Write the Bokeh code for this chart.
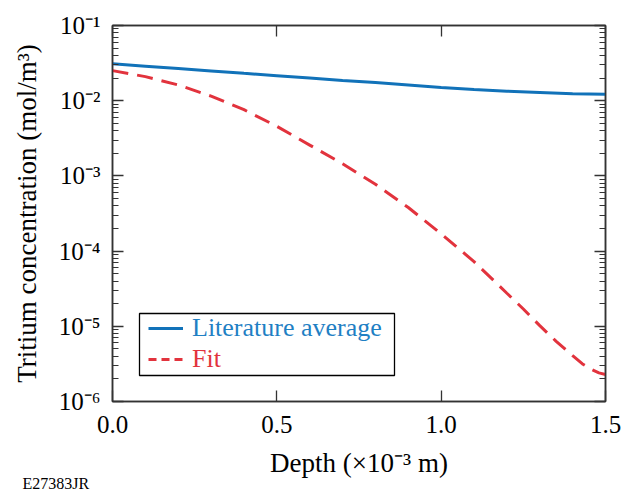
from bokeh.plotting import figure
from bokeh.models import (Range1d, FixedTicker, LinearAxis, LogAxis, Legend, LegendItem,
                          BoxAnnotation, Title, CustomJSTickFormatter, ColumnDataSource)
from bokeh.embed import file_html
from bokeh.resources import INLINE

# ---- data ----
depth_lit = [0.0, 0.1, 0.2, 0.3, 0.4, 0.5, 0.6, 0.7, 0.8, 0.9, 1.0, 1.1, 1.2, 1.3, 1.4, 1.5]
conc_lit = [0.0309, 0.0288, 0.0268, 0.0249, 0.0231, 0.0215, 0.0200, 0.0186, 0.0174, 0.0162,
            0.0150, 0.0141, 0.0134, 0.0129, 0.0124, 0.0122]

depth_fit = [0.0, 0.1, 0.2, 0.3, 0.4, 0.5, 0.6, 0.7, 0.8, 0.9, 1.0, 1.1, 1.2, 1.25, 1.3,
             1.35, 1.4, 1.43, 1.46, 1.48, 1.5]
conc_fit = [0.0251, 0.0209, 0.0162, 0.0115, 0.00759, 0.00457, 0.00257, 0.00145, 7.76e-4,
            3.80e-4, 1.70e-4, 7.24e-5, 2.75e-5, 1.70e-5, 1.02e-5,
            6.31e-6, 4.07e-6, 3.16e-6, 2.63e-6, 2.40e-6, 2.29e-6]

x_ticks = [0.0, 0.5, 1.0, 1.5]
x_tick_labels = ["0.0", "0.5", "1.0", "1.5"]
y_ticks = [1e-6, 1e-5, 1e-4, 1e-3, 1e-2, 1e-1]
y_tick_labels = ["10\u207b\u2076", "10\u207b\u2075", "10\u207b\u2074", "10\u207b\u00b3", "10\u207b\u00b2", "10\u207b\u00b9"]
y_minor_ticks = [m * 10.0 ** e for e in range(-6, -1) for m in range(2, 10)]

series_names = ["Literature average", "Fit"]
x_title = "Depth (\u00d710\u207b\u00b3 m)"
y_title = "Tritium concentration (mol/m\u00b3)"
footer = "E27383JR"

BLUE = "#1172b9"
BLUE_TXT = "#1f80c4"
RED = "#e2333d"
FONT = "Liberation Serif"
AX = "#333333"

p = figure(width=623, height=491, output_backend="svg", toolbar_location=None,
           y_axis_type="log", x_range=Range1d(0, 1.5), y_range=Range1d(1e-6, 1e-1),
           min_border_left=112, min_border_right=18, min_border_top=25, min_border_bottom=90)
p.xgrid.visible = False
p.ygrid.visible = False
p.outline_line_color = AX
p.outline_line_width = 1.5

fit_src = ColumnDataSource(data=dict(x=depth_fit, y=conc_fit))
r_lit = p.line(depth_lit, conc_lit, line_color=BLUE, line_width=3)
r_fit = p.line("x", "y", source=fit_src, line_color=RED, line_width=3, line_dash="16 9")
# legend-only sample for the dashed series (shorter dashes in the key); hidden in the frame
r_fit_key = p.line("x", "y", source=fit_src, line_color=RED, line_width=3, line_dash="8 5",
                   visible=False)

xt = FixedTicker(ticks=x_ticks, minor_ticks=[])
yt = FixedTicker(ticks=y_ticks, minor_ticks=y_minor_ticks)
xfmt = CustomJSTickFormatter(args=dict(tv=x_ticks, tl=x_tick_labels), code="""
for (let i = 0; i < tv.length; i++) { if (Math.abs(tick - tv[i]) < 1e-9) return tl[i]; }
return "";""")
yfmt = CustomJSTickFormatter(args=dict(tv=y_ticks, tl=y_tick_labels), code="""
for (let i = 0; i < tv.length; i++) { if (Math.abs(Math.log10(tick) - Math.log10(tv[i])) < 1e-6) return tl[i]; }
return "";""")
blank = CustomJSTickFormatter(code='return "";')


def style(ax, labels=True):
    ax.axis_line_color = AX
    ax.axis_line_width = 1.5
    ax.major_tick_in = 11
    ax.major_tick_out = 0
    ax.minor_tick_in = 6
    ax.minor_tick_out = 0
    ax.major_tick_line_color = AX
    ax.minor_tick_line_color = AX
    ax.major_tick_line_width = 1.3
    ax.minor_tick_line_width = 1.1
    ax.major_label_text_font = FONT
    ax.major_label_text_color = "black"
    ax.major_label_text_font_size = "25px"
    ax.axis_label_text_font = FONT
    ax.axis_label_text_font_style = "normal"
    ax.axis_label_text_color = "black"
    ax.axis_label_text_font_size = "27px"
    ax.major_label_standoff = 10 if labels else 0


xa = p.xaxis[0]
xa.ticker = xt
xa.formatter = xfmt
xa.axis_label = x_title
style(xa)
xa.major_label_standoff = 14
xa.axis_label_standoff = 12

ya = p.yaxis[0]
ya.ticker = yt
ya.formatter = yfmt
ya.axis_label = y_title
ya.axis_label_standoff = 14
style(ya)
ya.major_label_standoff = 12

top = LinearAxis(ticker=xt, formatter=blank)
style(top, labels=False)
p.add_layout(top, "above")
right = LogAxis(ticker=yt, formatter=blank)
style(right, labels=False)
p.add_layout(right, "right")

# legend (two stacked legends so each label keeps its series colour) + frame box
common = dict(border_line_alpha=0, background_fill_alpha=0, padding=0, margin=0, spacing=0,
              glyph_width=35, glyph_height=20, label_standoff=9,
              label_text_font=FONT, label_text_font_size="26px",
              inactive_fill_alpha=0)
leg_a = Legend(items=[LegendItem(label=series_names[0], renderers=[r_lit])],
               location=(36, 58), label_text_color=BLUE_TXT, **common)
leg_b = Legend(items=[LegendItem(label=series_names[1], renderers=[r_fit_key])],
               location=(36, 27), label_text_color=RED, **common)
p.add_layout(leg_a, "center")
p.add_layout(leg_b, "center")
p.add_layout(BoxAnnotation(left=27, right=282, top=88, bottom=26,
                           left_units="screen", right_units="screen",
                           top_units="screen", bottom_units="screen",
                           fill_alpha=0, line_color="black", line_alpha=1, line_width=1.3))

p.add_layout(Title(text=footer, align="left", offset=-90, standoff=-16,
                   text_font=FONT, text_font_size="16px", text_font_style="normal",
                   text_color="black"), "below")

open("out.html", "w").write(file_html(p, INLINE))
